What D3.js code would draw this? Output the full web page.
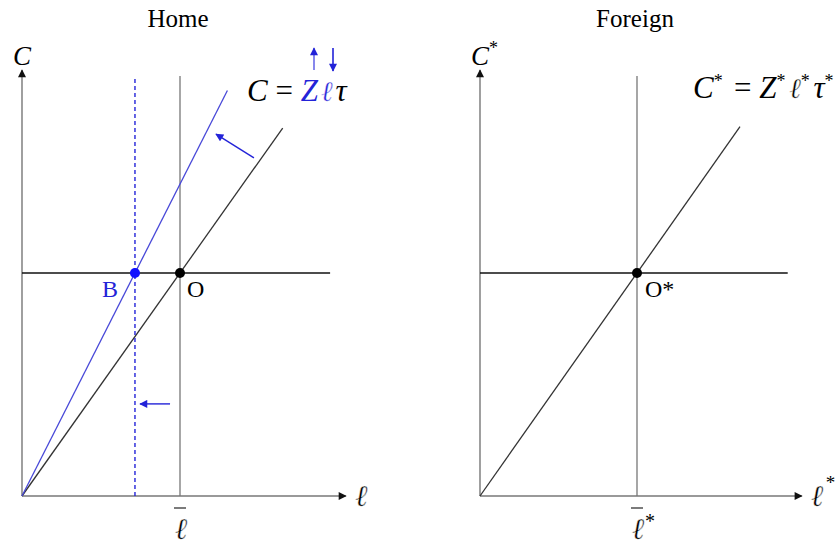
<!DOCTYPE html>
<html>
<head>
<meta charset="utf-8">
<script src="https://cdn.jsdelivr.net/npm/d3@7"></script>
<style>
  body { margin: 0; background: #fff; }
  text { font-family: "Liberation Serif", "Times New Roman", serif; }
  .ell { font-family: "DejaVu Serif", serif; font-style: italic; font-weight: normal;
         stroke: #fff; stroke-width: 0.4px; }
</style>
</head>
<body>
<div id="chart"></div>
<script>
// values in model units (ℓ on x, C on y)
const panelNames = ["Home", "Foreign"];
const lBar = [1, 1];              // endowment ℓ̄
const cLevel = [1, 1];            // consumption at O / O*
const axisEndX = [2.05, 2.05];
const axisEndY = 1.91;
const hLineEnd = [1.95, 1.96];
const vLineTop = 1.883;
const budgetEnd = [1.65, 1.656];  // C = Zℓτ before the shock
const lB = 0.715;                 // ℓ at point B
const shiftedEnd = 1.30;          // new, steeper line
const rotateArrow = [[1.468, 1.516], [1.228, 1.623]];
const shiftArrow = [[0.937, 0.413], [0.747, 0.413]];

const W = 836, H = 547;
const blue = "#2323d8";

const svg = d3.select("#chart").append("svg")
    .attr("width", W)
    .attr("height", H);

const defs = svg.append("defs");
function marker(id, color) {
    defs.append("marker")
        .attr("id", id)
        .attr("viewBox", "0 0 10 10")
        .attr("refX", 9).attr("refY", 5)
        .attr("markerWidth", 9).attr("markerHeight", 8)
        .attr("markerUnits", "userSpaceOnUse")
        .attr("orient", "auto")
        .append("path")
        .attr("d", "M0,0L10,5L0,10Z")
        .attr("fill", color);
}
marker("ah-black", "#111");
marker("ah-blue", blue);

const xScales = [
    d3.scaleLinear().domain([0, 2]).range([22, 338]),
    d3.scaleLinear().domain([0, 2]).range([480, 794])
];
const y = d3.scaleLinear().domain([0, 1]).range([496, 273]);

function line(g, x, p0, p1, color, width, dash) {
    return g.append("line")
        .attr("x1", x(p0[0])).attr("y1", y(p0[1]))
        .attr("x2", x(p1[0])).attr("y2", y(p1[1]))
        .attr("stroke", color)
        .attr("stroke-width", width)
        .attr("stroke-dasharray", dash || null);
}

panelNames.forEach((name, i) => {
    const x = xScales[i];
    const g = svg.append("g");
    const star = i === 1;

    g.append("text")
        .attr("x", x(lBar[i]) - 2).attr("y", 27)
        .attr("text-anchor", "middle")
        .style("font-size", "25px")
        .text(name);

    // axes
    line(g, x, [0, 0], [0, axisEndY], "#777", 1.4).attr("marker-end", "url(#ah-black)");
    line(g, x, [0, 0], [axisEndX[i], 0], "#777", 1.4).attr("marker-end", "url(#ah-black)");

    // C label
    const cl = g.append("text")
        .attr("x", x(0) - 9).attr("y", 65)
        .style("font-size", "27px")
        .style("font-style", "italic")
        .text("C");
    if (star) cl.append("tspan").attr("dy", -11).style("font-size", "18px").style("font-style", "normal").text("*");

    // ℓ label at axis end
    g.append("text")
        .attr("class", "ell")
        .attr("x", x(axisEndX[i]) + 9).attr("y", 506)
        .style("font-size", "30px")
        .text("ℓ");
    if (star) g.append("text")
        .attr("x", x(axisEndX[i]) + 24).attr("y", 489)
        .style("font-size", "19px").text("*");

    // ℓ̄ label
    const lx = x(lBar[i]);
    g.append("line")
        .attr("x1", lx - 6).attr("x2", lx + 6)
        .attr("y1", 508).attr("y2", 508)
        .attr("stroke", "#333").attr("stroke-width", 1.3);
    g.append("text")
        .attr("class", "ell")
        .attr("x", lx + 1).attr("y", 539)
        .attr("text-anchor", "middle")
        .style("font-size", "30px")
        .text("ℓ");
    if (star) g.append("text")
        .attr("x", lx + 8).attr("y", 528)
        .style("font-size", "20px")
        .text("*");

    // vertical ℓ̄ line and horizontal C line
    line(g, x, [lBar[i], 0], [lBar[i], vLineTop], "#777", 1.3);
    line(g, x, [0, cLevel[i]], [hLineEnd[i], cLevel[i]], "#111", 1.3);

    // budget line through O
    line(g, x, [0, 0], [budgetEnd[i], budgetEnd[i] * cLevel[i] / lBar[i]], "#333", 1.3);

    g.append("circle")
        .attr("cx", x(lBar[i])).attr("cy", y(cLevel[i]))
        .attr("r", 5).attr("fill", "#000");

    g.append("text")
        .attr("x", x(lBar[i]) + (star ? 8 : 7)).attr("y", 297)
        .style("font-size", "24px")
        .text(star ? "O*" : "O");
});

// Home shock: steeper line through B, dashed ℓ line
(function () {
    const x = xScales[0];
    const g = svg.append("g");
    line(g, x, [lB, 0], [lB, vLineTop], blue, 1.4, "4,3");
    line(g, x, [0, 0], [shiftedEnd, shiftedEnd * cLevel[0] / lB], "#4848d8", 1.3);
    line(g, x, rotateArrow[0], rotateArrow[1], blue, 1.4).attr("marker-end", "url(#ah-blue)");
    line(g, x, shiftArrow[0], shiftArrow[1], blue, 1.4).attr("marker-end", "url(#ah-blue)");
    g.append("circle")
        .attr("cx", x(lB)).attr("cy", y(cLevel[0]))
        .attr("r", 5).attr("fill", "#1010ff");
    g.append("text")
        .attr("x", x(lB) - 33).attr("y", 297)
        .attr("fill", blue)
        .style("font-size", "24px")
        .text("B");

    // equation C = Zℓτ
    const eq = g.append("text")
        .attr("x", 247).attr("y", 101)
        .style("font-size", "31px");
    eq.append("tspan").style("font-style", "italic").text("C");
    eq.append("tspan").text(" = ");
    eq.append("tspan").attr("fill", blue).style("font-style", "italic").text("Z");
    eq.append("tspan").attr("dx", 3).attr("class", "ell").attr("fill", blue).style("font-size", "28px").text("ℓ");
    eq.append("tspan").attr("dx", 3).style("font-style", "italic").text("τ");

    g.append("line").attr("x1", 314).attr("x2", 314).attr("y1", 70).attr("y2", 48)
        .attr("stroke", "#6a6ae8").attr("stroke-width", 1.6).attr("marker-end", "url(#ah-blue)");
    g.append("line").attr("x1", 333).attr("x2", 333).attr("y1", 48).attr("y2", 71)
        .attr("stroke", blue).attr("stroke-width", 1.6).attr("marker-end", "url(#ah-blue)");
})();

// Foreign equation
(function () {
    const eq = svg.append("text")
        .attr("x", 693).attr("y", 98)
        .style("font-size", "31px");
    const parts = ["C", " = ", "Z", "ℓ", "τ"];
    parts.forEach(p => {
        if (p === " = ") {
            eq.append("tspan").text(" = ");
            return;
        }
        const t = eq.append("tspan").style("font-style", "italic").text(p);
        if (p === "ℓ") t.attr("class", "ell").style("font-size", "28px");
        eq.append("tspan").attr("dy", -11).style("font-size", "18px").text("*");
        eq.append("tspan").attr("dy", 11).style("font-size", "18px").text("\u2009");
    });
})();
</script>
</body>
</html>
